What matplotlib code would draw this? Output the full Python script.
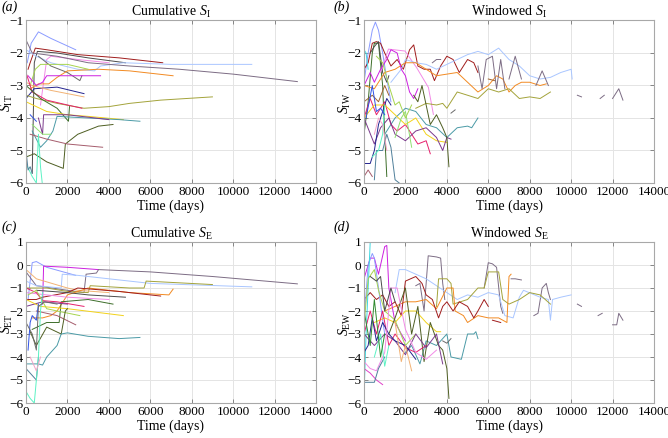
import numpy as np
import matplotlib.pyplot as plt

nan = np.nan

# colours of the individual records (one colour per record, as in the figure)
colors = {
    'lightblue': '#8a9bff', 'darkred': '#a01c1c', 'black': '#4a4a4a',
    'pink': '#f28ae6', 'paleblue': '#a9c6ff', 'graypurple': '#7c6c84',
    'gray': '#6a6a6a', 'orange': '#f28a22', 'yellowgreen': '#a6d44e',
    'magenta': '#cc1fe0', 'navy': '#23238e', 'peach': '#f2b274',
    'olive': '#a3a33a', 'crimson': '#e6206c', 'darkgreen': '#3d6e2a',
    'yellow': '#f2d21a', 'teal': '#4a9aa6', 'purple': '#7b3a8c',
    'darkolive': '#4e5e22', 'mauve': '#a55c6c', 'aqua': '#5cf2c4',
    'blue': '#3052e6', 'lightgreen': '#8fe070', 'palepink': '#f2a2c6',
    'brown': '#a06432', 'cyan': '#40d8e0', 'steel': '#4f7f9a',
    'crimson2': '#e040c8', 'green': '#2e8a2e',
}

# (a) cumulative S_I : times (days), values
a_series = {
    'lightblue': ([60, 250, 600, 1200, 2400], [-2.3, -1.7, -1.35, -1.55, -1.9]),
    'darkred': ([100, 200, 450, 1000, 2500, 4500, 6600], [-2.5, -2.3, -1.85, -1.9, -2.05, -2.15, -2.3]),
    'black': ([300, 400, 550, 1500, 3000, 4800], [-5.7, -2.3, -1.95, -2.0, -2.15, -2.3]),
    'pink': ([700, 1000, 1200, 2500, 4000], [-3.6, -2.2, -2.1, -2.2, -2.3]),
    'paleblue': ([0, 500, 1200, 2500, 3300, 3600, 4700, 7000, 10900],
                 [-1.9, -2.1, -2.3, -2.5, -2.55, -2.4, -2.3, -2.35, -2.35]),
    'graypurple': ([0, 300, 1500, 3000, 5000, 7400, 10000, 13100],
                   [-1.6, -2.0, -2.1, -2.3, -2.4, -2.5, -2.65, -2.88]),
    'gray': ([600, 1200, 2000, 2600, 2700], [-2.1, -2.4, -2.6, -2.85, -2.7]),
    'orange': ([200, 600, 1100, 1500, 2000, 3500, 5000, 7100],
               [-3.1, -2.95, -2.95, -2.75, -2.55, -2.5, -2.55, -2.7]),
    'yellowgreen': ([200, 450, 700, 2000, 3000], [-3.0, -2.5, -2.35, -2.35, -2.5]),
    'magenta': ([100, 500, 800, 1000, 2000, 3600], [-2.7, -3.0, -2.9, -2.7, -2.7, -2.7]),
    'navy': ([0, 400, 1500, 2800], [-3.4, -3.1, -3.05, -3.25]),
    'peach': ([0, 300, 1200, 2800], [-2.9, -3.0, -3.15, -3.35]),
    'olive': ([0, 500, 1500, 2800, 4000, 5000, 6500, 9000],
              [-3.3, -3.4, -3.55, -3.7, -3.65, -3.55, -3.45, -3.35]),
    'crimson': ([0, 300, 1000, 2000, 2700], [-2.6, -3.2, -3.45, -3.6, -3.7]),
    'darkgreen': ([0, 700, 1500, 2050, 2100], [-3.0, -3.4, -3.7, -4.1, -3.65]),
    'yellow': ([0, 1000, 2000, 3000, 4700], [-3.5, -3.8, -3.9, -3.95, -4.05]),
    'teal': ([300, 700, 1000, 1300, 1500, 3000, 4500, 5500],
             [-4.4, -4.9, -4.7, -4.4, -3.95, -4.0, -4.05, -4.1]),
    'purple': ([600, 800, 850, 2000, 4000], [-4.0, -4.5, -3.9, -3.9, -4.05]),
    'darkolive': ([0, 400, 1000, 1800, 1900, 2500, 3500, 4200],
                  [-5.2, -5.1, -5.35, -5.55, -4.8, -4.5, -4.25, -4.2]),
    'mauve': ([200, 1000, 2000, 3700], [-4.5, -4.65, -4.8, -4.9]),
    'aqua': ([0, 300, 500, 600, 700, 800], [-5.4, -5.8, -6.0, -4.5, -5.5, -6.1]),
    'blue': ([200, 350, 500], [-3.9, -4.0, -4.1]),
    'lightgreen': ([300, 800, 1200], [-4.2, -4.5, -4.5]),
    'steel': ([0, 100, 200, 300], [-5.0, -5.6, -5.5, -5.7]),
}

# (b) windowed S_I
b_series = {
    'lightblue': ([0, 200, 400, 550, 700, 900, 1100, 1300], [-2.9, -2.0, -1.3, -1.05, -1.3, -2.0, -2.8, -3.5]),
    'darkred': ([0, 200, 400, 600, 800, 1000, 1300, 1600, 1900, 2200, 2400, 2600, 2900, 3200, 3400,
                 3700, 4000, 4300, 4600, 5000, 5300, 5500],
                [-2.5, -2.3, -1.7, -1.65, -1.7, -2.0, -2.4, -2.2, -2.5, -1.9, -1.75, -2.4, -2.5, -2.5, -2.85,
                 -2.4, -2.1, -2.2, -2.6, -2.2, -2.3, -2.6]),
    'darkgreen': ([0, 200, 400, 500, 700, 900, 1000, 1100], [-4.5, -3.5, -2.0, -1.7, -1.7, -3.0, -4.5, -5.8]),
    'black': ([300, 500, 700, 900, 1100, 1200], [-2.0, -1.8, -1.65, -2.6, -2.9, -2.7]),
    'pink': ([800, 1180, 1980, 2540, 3110, 3350], [-2.6, -1.88, -1.94, -2.45, -3.06, -3.89]),
    'paleblue': ([1300, 1800, 2000, 2500, 3000, 3500, 4000, 4500, 5000, 5500, 6000, 6500, 7000, 7500,
                  8000, 8500, 9000, 9500, 10000, 10050],
                 [-2.9, -2.5, -2.2, -2.3, -2.35, -2.5, -2.35, -2.2, -2.05, -1.95, -2.05, -1.85, -2.2, -2.4,
                  -2.7, -2.8, -2.75, -2.6, -2.5, -2.8]),
    'orange': ([0, 500, 1000, 1500, 2000, 2500, 3000, 3500, 4000, 4500, 5000, 5500, 6000, 6400, 6700,
                7000, 7300, 7600, 8000, 8500, 8800],
               [-3.0, -3.1, -2.6, -2.5, -2.3, -2.3, -2.5, -2.7, -2.65, -2.6, -2.9, -3.2, -3.0, -2.7, -2.8,
                -3.2, -3.0, -2.9, -2.9, -3.0, -2.95]),
    'magenta': ([0, 300, 500, 800, 1100, 1300, 1600, 1800, 2000, 2200, 2400, 2600],
                [-3.0, -2.6, -2.9, -2.5, -2.2, -1.9, -2.0, -2.5, -2.7, -3.2, -3.4, -3.1]),
    'olive': ([2500, 3000, 3500, 3800, 4000, 4500, 5000, 5500, 6000, 6500, 7000, 7500, 8000, 8500, 9000],
              [-3.7, -3.55, -3.6, -3.55, -3.7, -3.2, -3.3, -3.4, -3.1, -3.2, -3.1, -3.4, -3.35, -3.4, -3.2]),
    'graypurple': ([3300, 3500, 3700, nan, 5500, 5700, 5900, 6200, 6400, 6600, 6800, nan, 7000, 7300, 7600,
                    nan, 8300, 8600, 8900, nan, 10300, 10500, nan, 11400, 11600, nan, 12000, 12300, 12500],
                   [-2.3, -2.2, -2.2, nan, -2.4, -3.1, -2.2, -2.1, -3.1, -2.2, -3.1, nan, -2.8, -2.1, -2.8,
                    nan, -3.0, -2.55, -3.0, nan, -3.3, -3.35, nan, -3.4, -3.3, nan, -3.4, -3.1, -3.45]),
    'gray': ([4200, 4400], [-3.85, -3.75]),
    'brown': ([0, 400, 700, 1000, 1200, nan, 6000, 6300], [-3.5, -3.3, -3.5, -3.0, -3.3, nan, -2.8, -2.85]),
    'teal': ([1000, 1500, 2000, 2500, 3000, 3500, 4000, 4500, 5000, 5200, 5500],
             [-4.5, -4.0, -3.7, -3.8, -4.2, -4.3, -4.6, -4.3, -4.25, -4.3, -4.0]),
    'crimson': ([0, 300, 600, 1000, 1300, 1600, 2000, 2300, 2600, 3000, 3200],
                [-4.0, -3.4, -3.9, -3.5, -4.2, -4.4, -4.2, -4.5, -4.8, -4.7, -5.1]),
    'yellow': ([0, 500, 1000, 1500, 2000, 2500, 3000, 3500, 4000],
               [-4.0, -3.6, -3.6, -3.9, -4.2, -4.0, -4.5, -4.7, -4.75]),
    'purple': ([0, 500, 800, 1200, 1500, 2000, 2500, 3000, 3500, 3800, 4000, 4200],
               [-4.0, -4.8, -4.3, -4.0, -4.5, -4.7, -4.4, -4.3, -4.6, -5.0, -4.6, -4.65]),
    'darkolive': ([2400, 2600, 2800, 3000, 3200, 3500, 3800, 4000, 4100],
                  [-3.3, -3.5, -3.0, -3.6, -4.2, -3.9, -4.3, -4.6, -5.5]),
    'navy': ([0, 300, 500, 700, 900, 1100, 1300], [-5.4, -5.4, -5.0, -4.2, -3.8, -3.4, -3.6]),
    'steel': ([500, 600, 900, 1100, 1300, 1500, 1700], [-5.9, -5.0, -5.0, -4.5, -4.9, -5.9, -6.0]),
    'lightgreen': ([1500, 1800, 2000, 2300], [-4.6, -4.0, -3.8, -4.9]),
    'yellowgreen': ([600, 900, 1200, 1500, 1700, 2000, 2300], [-2.1, -2.3, -3.0, -3.6, -3.5, -4.0, -3.6]),
    'aqua': ([400, 700, 900, 1000], [-5.2, -5.0, -4.5, -3.6]),
    'mauve': ([0, 200, 400], [-5.8, -5.6, -5.8]),
    'cyan': ([0, 100, 200], [-1.9, -2.0, -2.5]),
    'blue': ([100, 400, 600, 800, 1000], [-4.0, -3.0, -3.8, -3.7, -3.9]),
    'palepink': ([500, 700, 900, 1100], [-4.5, -4.0, -4.2, -5.0]),
}

# (c) cumulative S_E
c_series = {
    'lightblue': ([100, 300, 500, 1000, 2400], [-1.5, 0.1, 0.15, -0.1, -0.45]),
    'magenta': ([800, 850, 2000, 3500], [-1.7, -0.05, -0.1, -0.2]),
    'graypurple': ([0, 500, 2000, 2800, 2900, 3400, 3500, 6000, 9000, 13100],
                   [-0.3, -0.9, -1.1, -1.2, -0.4, -0.35, -0.2, -0.3, -0.5, -0.82]),
    'paleblue': ([0, 500, 1700, 1750, 2500, 6000, 10900], [-0.7, -0.9, -1.0, -0.4, -0.45, -0.8, -0.95]),
    'olive': ([0, 1000, 2000, 3000, 3100, 5000, 5700, 5800, 9000],
              [-1.0, -1.0, -1.15, -1.2, -0.9, -1.0, -1.0, -0.7, -0.85]),
    'peach': ([0, 500, 2000, 2500, 4000], [-0.2, -0.6, -1.0, -1.1, -1.2]),
    'orange': ([300, 800, 1200, 1500, 2000, 3000, 5000, 6900, 7100],
               [-2.3, -2.3, -2.2, -2.0, -1.3, -1.0, -1.2, -1.3, -1.05]),
    'darkred': ([0, 500, 800, 2000, 2500, 4500, 6500], [-1.5, -1.5, -1.4, -1.2, -1.0, -1.15, -1.35]),
    'black': ([500, 2000, 3000, 4800], [-1.1, -1.2, -1.3, -1.4]),
    'pink': ([0, 1000, 2000, 4000], [-1.2, -1.3, -1.4, -1.5]),
    'darkgreen': ([300, 1000, 1600, 1700, 3000, 4200], [-2.8, -2.5, -2.5, -1.6, -1.5, -1.7]),
    'crimson': ([0, 500, 800, 1500, 2800], [-1.0, -1.2, -1.55, -1.6, -1.8]),
    'purple': ([0, 800, 2000], [-1.8, -1.6, -1.7]),
    'yellow': ([0, 700, 2000, 4700], [-1.5, -1.8, -1.9, -2.2]),
    'yellowgreen': ([100, 500, 1000, 1500, 2600], [-1.3, -1.1, -1.9, -2.0, -2.2]),
    'mauve': ([500, 1500, 2400], [-2.0, -2.2, -2.6]),
    'darkolive': ([200, 500, 1000, 1700, 1900, 2000], [-2.9, -3.5, -2.7, -3.0, -2.0, -1.9]),
    'teal': ([0, 300, 600, 800, 1000, 1500, 1700, 2000, 3000, 4500, 5500],
             [-4.3, -4.3, -4.3, -4.35, -4.0, -3.5, -3.0, -2.95, -3.1, -3.2, -3.15]),
    'steel': ([0, 300, 500, 600], [-4.5, -4.8, -5.0, -4.0]),
    'aqua': ([0, 200, 400, 600, 700, 800], [-5.5, -5.8, -6.0, -4.0, -2.0, -1.2]),
    'blue': ([100, 200, 300, 500, 600], [-3.7, -2.5, -2.2, -2.4, -1.7]),
    'palepink': ([200, 500, 700], [-4.0, -4.6, -4.0]),
    'gray': ([0, 300, 500, 600, 900, 1500], [-2.5, -3.0, -3.7, -1.8, -1.6, -1.7]),
}

# (d) windowed S_E
d_series = {
    'graypurple': ([2500, 2700, 2900, 3100, 3500, 3700, 3800, 3900, nan, 5800, 6000, 6200, 6400, 6600, 6700,
                    nan, 7100, 7300, 7600, nan, 8200, 8400, 8600, 8800, 8900, 9000, nan, 10300, 10500,
                    nan, 11300, 11500, nan, 12000, 12200, 12300, 12500],
                   [-0.9, -0.8, -2.0, 0.4, 0.35, 0.3, -0.8, -1.5, nan, -1.0, 0.1, 0.05, -0.1, -1.8, -2.1,
                    nan, -0.6, -0.6, -0.65, nan, -2.2, -2.1, -1.0, -0.8, -1.2, -1.5, nan, -1.7, -1.8,
                    nan, -2.2, -2.1, nan, -2.6, -2.6, -2.1, -2.4]),
    'paleblue': ([1500, 1700, 2000, 3000, 4000, 4500, 5000, 5500, 6000, 6500, 6800, 7200, 7500, 7700,
                  8500, 8900, 9000, 9100, 9500, 10000],
                 [-1.2, -0.2, -0.2, -0.6, -1.2, -1.5, -1.3, -1.4, -1.2, -1.3, -2.2, -2.3, -1.4, -1.1,
                  -1.4, -1.5, -2.4, -1.5, -1.4, -1.3]),
    'olive': ([3500, 3600, 4000, 4200, 4300, 5000, 5500, 5800, 6000, 6500, 6700, 7000, 7500, 8000, 8500, 9000],
              [-1.8, -0.6, -0.6, -0.8, -1.7, -1.5, -1.0, -1.0, -0.3, -0.3, -1.5, -1.7, -1.5, -1.2, -1.3, -1.7]),
    'orange': ([1000, 1500, 2000, 2500, 3000, 3500, 4000, 4300, 4400, 4800, 5000, 5500, 6000, 6500, 6900,
                7000, 7100],
               [-2.0, -1.8, -1.6, -1.6, -1.5, -1.9, -1.0, -1.0, -2.0, -2.2, -2.5, -2.2, -2.3, -2.3, -2.5,
                -0.5, -0.4]),
    'darkred': ([0, 300, 600, 900, 1200, 1500, 1800, 2000, 2500, 2800, 3000, 3300, 3600, 3800, 4000, 4300,
                 4600, 5000, 5300, 5500, 5800, 6000, nan, 6200, 6600],
                [-1.5, -1.2, -1.5, -1.3, -1.8, -1.6, -2.2, -0.7, -0.5, -0.8, -1.3, -1.5, -2.3, -1.8, -1.6, -2.0,
                 -1.6, -1.8, -2.3, -2.0, -1.5, -1.8, nan, -2.4, -2.5]),
    'magenta': ([0, 300, 500, 700, 800, 1000, 1100, 1200, 1500, 1800, 2000],
                [-0.6, 0.3, 0.3, -0.4, 0.0, 0.8, 0.85, -1.0, -2.5, -3.0, -3.3]),
    'lightblue': ([0, 200, 400, 500, 700, 900, 1000], [-2.5, 0.0, 0.5, 0.3, -1.0, -2.4, -3.0]),
    'cyan': ([0, 100, 300], [-5.7, -3.0, 1.0]),
    'yellow': ([500, 1000, 1500, 2000, 2500, 3000, 3500, 3700], [-2.5, -2.3, -2.5, -2.0, -2.0, -2.5, -2.9, -2.9]),
    'yellowgreen': ([0, 200, 500, 700, 1000, 1500, 2000, 2500], [-2.6, -0.6, -0.2, -1.1, -2.0, -2.4, -3.5, -3.0]),
    'teal': ([2000, 2300, 2700, 3000, 3500, 4000, 4200, 4700, 5000, 5300, 5400, 5500],
             [-3.8, -3.5, -4.3, -3.3, -3.5, -3.0, -4.0, -4.1, -3.0, -3.0, -2.9, -3.2]),
    'darkolive': ([1200, 1500, 2000, 2300, 2600, 2900, 3200, 3600, 3800, 4000, 4100],
                  [-3.0, -2.3, -1.0, -3.0, -1.8, -4.2, -2.5, -3.5, -3.7, -4.5, -5.8]),
    'gray': ([3800, 4000, 4200], [-3.3, -3.4, -3.2]),
    'crimson': ([0, 300, 600, 900, 1200, 1500, 2000, 2500, 3000], [-3.0, -2.0, -3.0, -2.0, -3.5, -3.0, -3.6, -3.8, -3.5]),
    'purple': ([0, 500, 1000, 1500, 2000, 2500, 3000, 3500, 3800], [-3.0, -3.5, -3.0, -3.3, -3.9, -3.0, -3.6, -3.0, -4.3]),
    'navy': ([0, 200, 400, 600, 900, 1200, 1500, 2000, 2500], [-3.8, -3.5, -2.3, -3.3, -2.5, -3.0, -3.3, -3.5, -4.1]),
    'pink': ([0, 300, 600, 1000, 1300, 1600, 2000, 2500, 3000, 3500],
             [-4.2, -4.5, -4.6, -3.8, -1.0, -1.0, -2.8, -3.8, -4.1, -3.7]),
    'crimson2': ([0, 300, 600, 900], [-4.5, -4.7, -5.0, -5.2]),
    'steel': ([0, 500, 700, 1000], [-5.1, -5.1, -4.5, -4.0]),
    'aqua': ([500, 800, 1000, 1200], [-4.0, -3.0, -4.4, -3.5]),
    'peach': ([1500, 1800, 2000, 2300], [-2.5, -4.2, -3.5, -4.6]),
    'black': ([300, 600, 800, 1000, 1300, 1500], [-0.5, -0.7, -0.5, -2.0, -1.0, -1.6]),
    'green': ([0, 300, 500, 800, 1000], [-2.0, -3.5, -1.5, -4.0, -3.0]),
}

panels = [
    ('(a)', r'Cumulative $S_{\rm I}$', r'$S_{\rm IT}$', a_series, (-6, -1)),
    ('(b)', r'Windowed $S_{\rm I}$', r'$S_{\rm IW}$', b_series, (-6, -1)),
    ('(c)', r'Cumulative $S_{\rm E}$', r'$S_{\rm ET}$', c_series, (-6, 1)),
    ('(d)', r'Windowed $S_{\rm E}$', r'$S_{\rm EW}$', d_series, (-6, 1)),
]

plt.rcParams.update({
    'font.family': 'serif',
    'font.serif': ['Liberation Serif', 'DejaVu Serif'],
    'mathtext.fontset': 'custom',
    'mathtext.rm': 'Liberation Serif',
    'mathtext.it': 'Liberation Serif:italic',
    'font.size': 10,
})

fig = plt.figure(figsize=(6.68, 4.38), dpi=100)
boxes = [
    [26 / 668, 255 / 438, 290 / 668, 162.5 / 438],
    [364 / 668, 255 / 438, 290 / 668, 162.5 / 438],
    [26 / 668, 35 / 438, 290 / 668, 161 / 438],
    [364 / 668, 35 / 438, 290 / 668, 161 / 438],
]
letter_pos = [(0.002, 0.998), (0.5, 0.998), (0.002, 0.497), (0.5, 0.497)]

for i, (letter, title, ylab, series, ylim) in enumerate(panels):
    ax = fig.add_axes(boxes[i])
    for key, (t, v) in series.items():
        ax.plot(t, v, color=colors[key], lw=0.7)
    ax.set_xlim(0, 14000)
    ax.set_ylim(*ylim)
    ax.set_xticks(np.arange(0, 14001, 2000))
    ax.set_yticks(np.arange(ylim[0], ylim[1] + 1, 1))
    ax.set_yticklabels(['\u2212%d' % -y if y < 0 else '%d' % y for y in range(ylim[0], ylim[1] + 1)])
    ax.grid(True, color='#e4e4e4', lw=0.7)
    ax.set_axisbelow(True)
    for sp in ax.spines.values():
        sp.set_color('#a8a8a8')
        sp.set_linewidth(0.8)
    ax.tick_params(direction='in', length=3, width=0.6, color='#777777',
                   top=True, right=True, labelsize=9.5, pad=2)
    ax.set_title(title, fontsize=10, pad=3)
    ax.set_xlabel('Time (days)', fontsize=10, labelpad=1)
    ax.set_ylabel(ylab, fontsize=10, va='center')
    ax.yaxis.set_label_coords(-0.066, 0.49)
    fig.text(*letter_pos[i], letter, style='italic', fontsize=10, ha='left', va='top')

fig.savefig('out.png', dpi=100)
